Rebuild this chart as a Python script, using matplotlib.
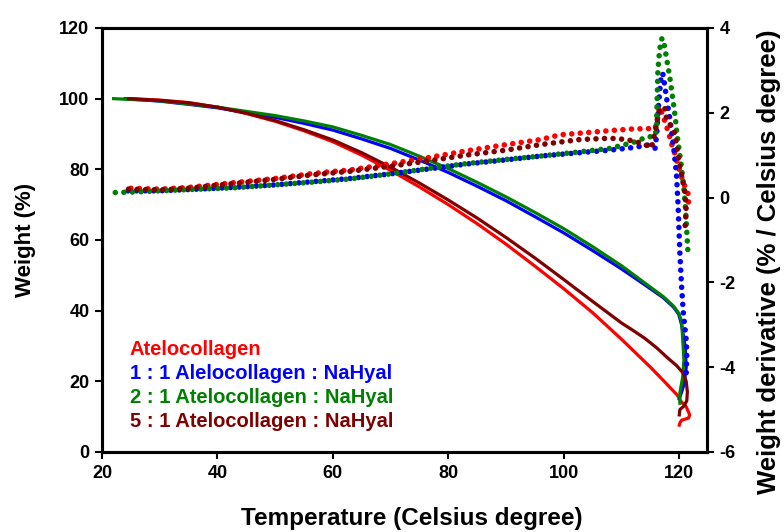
import matplotlib
matplotlib.use('Agg')
import matplotlib.pyplot as plt

plt.rcParams['font.family'] = ['Liberation Sans', 'DejaVu Sans']
plt.rcParams['font.weight'] = 'bold'
plt.rcParams['axes.unicode_minus'] = False

# weight loss curves (temperature in C, weight in %)
red_T = [25, 30, 35, 40, 45, 50, 55, 60, 65, 70, 75, 80, 85, 90, 95, 100, 105, 110, 115,
         117.5, 119.7, 120.2, 121.2, 121.8, 121.6, 120.4, 120.1, 120.0]
red_W = [100, 99.6, 98.9, 97.6, 95.8, 93.6, 90.9, 87.8, 84.0, 79.7, 75.0, 70.0, 64.6, 58.8,
         52.6, 46.2, 39.4, 31.9, 24.0, 19.8, 16.0, 14.5, 12.8, 10.5, 9.6, 9.0, 8.2, 7.6]

dred_T = [24.6, 30, 35, 40, 45, 50, 55, 60, 65, 70, 75, 80, 85, 90, 95, 100, 105, 110, 112,
          114, 116, 118, 119.5, 120.7, 121.2, 121.4, 121.3, 120.8, 120.1, 120.0]
dred_W = [100, 99.5, 98.8, 97.6, 95.9, 93.8, 91.2, 88.3, 84.7, 80.6, 76.1, 71.3, 66.2, 60.7,
          54.9, 48.8, 42.6, 36.5, 34.4, 32.2, 29.6, 26.6, 24.5, 22.3, 20, 17, 14.5, 13, 12, 10.5]

green_T = [22, 26, 30, 35, 40, 45, 50, 55, 60, 65, 70, 75, 80, 85, 90, 95, 100, 105, 110,
           114.3, 117.2, 119.0, 119.9, 120.4, 120.6, 120.8, 120.6, 120.1, 120.1]
green_W = [100, 99.7, 99.4, 98.5, 97.6, 96.4, 95.2, 93.7, 92.0, 89.6, 87.0, 83.7, 80.2, 76.3,
           72.2, 67.8, 63.2, 58.1, 52.7, 47.5, 44.0, 41.3, 39.3, 37.0, 31.7, 26.0, 21.3, 16.7,
           13.8]

blue_T = [24, 30, 35, 40, 45, 50, 55, 60, 65, 70, 75, 80, 85, 90, 95, 100, 105, 110, 114.3,
          117.2, 119.0, 119.9, 120.4, 121.0, 121.2, 120.8, 120.2, 120.0]
blue_W = [100, 99.3, 98.4, 97.4, 96.1, 94.7, 93.0, 91.1, 88.6, 85.9, 82.6, 79.1, 75.2, 71.1,
          66.6, 62.0, 57.0, 51.8, 47.0, 43.7, 41.0, 39.0, 36.0, 30.0, 24.0, 19.0, 16.0, 15.0]

# derivative curves (% / C)
red_dT = [25, 30, 35, 42.7, 50, 56, 59.5, 62.9, 70, 76.8, 83, 90, 96, 99.3, 102.8, 108, 112,
          115.8, 116.2, 116.6, 117.0, 117.5, 118.2, 118.8, 119.2, 119.8, 120.4, 121.0, 121.5,
          121.6, 121.4]
red_D = [0.22, 0.2, 0.24, 0.35, 0.45, 0.56, 0.61, 0.65, 0.8, 0.95, 1.1, 1.25, 1.37, 1.48, 1.52,
         1.58, 1.62, 1.63, 1.85, 2.14, 2.0, 1.8, 1.5, 1.2, 1.05, 0.75, 0.49, 0.25, 0.1, -0.1, -0.2]

dred_dT = [24.6, 30, 35, 42.7, 50, 56, 62.9, 70, 76.8, 83, 90, 96, 102.8, 108, 110.9, 113.5,
           115.2, 115.9, 116.4, 116.9, 117.5, 117.8, 118.5, 119.2, 119.7, 120.1, 120.6, 121.0,
           121.2, 121.0]
dred_D = [0.2, 0.18, 0.22, 0.33, 0.43, 0.53, 0.62, 0.74, 0.87, 1.0, 1.12, 1.25, 1.37, 1.4, 1.37,
          1.28, 1.18, 1.6, 2.0, 2.13, 2.1, 1.87, 1.7, 1.52, 1.1, 0.73, 0.4, 0.1, -0.3, -0.69]

green_dT = [22.3, 25, 30, 35, 42.7, 50, 56, 62.9, 70, 76.8, 83, 90, 96, 102.8, 108, 112, 114.6,
            115.6, 116.1, 116.1, 116.2, 116.3, 116.6, 117.0, 117.4, 117.9, 118.4, 118.9, 119.3,
            119.6, 120.0, 120.4, 120.8, 121.1, 121.3, 121.5]
green_D = [0.12, 0.13, 0.16, 0.19, 0.23, 0.3, 0.36, 0.44, 0.56, 0.69, 0.8, 0.9, 0.98, 1.08, 1.16,
           1.3, 1.44, 1.43, 1.6, 2.0, 2.5, 3.0, 3.5, 3.76, 3.6, 3.2, 2.8, 2.3, 1.9, 1.5, 1.1, 0.7,
           0.2, -0.3, -0.8, -1.3]

blue_dT = [24.5, 30, 35, 42.7, 50, 56, 62.9, 70, 76.8, 83, 90, 96, 102.8, 108, 112, 114.6, 115.8,
           116.1, 116.3, 116.6, 116.9, 117.2, 117.8, 118.4, 119.0, 119.5, 119.8, 120.1, 120.4,
           120.7, 121.0, 121.2, 121.3, 121.2, 121.0]
blue_D = [0.16, 0.16, 0.19, 0.24, 0.3, 0.37, 0.45, 0.56, 0.68, 0.79, 0.89, 0.98, 1.06, 1.12,
          1.18, 1.24, 1.16, 1.5, 2.0, 2.5, 2.93, 2.9, 2.34, 1.83, 1.2, 0.57, -0.21, -1.31, -2.1,
          -2.72, -3.1, -3.36, -3.67, -4.14, -4.3]

RED, BLUE, GREEN, DRED = '#ff0000', '#0000ff', '#008000', '#800000'

fig = plt.figure(figsize=(7.84, 5.32), dpi=100)
ax = fig.add_axes([102 / 784, 80 / 532, 605 / 784, 424 / 532])
ax2 = ax.twinx()

lw = 2.3
ax.plot(red_T, red_W, color=RED, lw=lw)
ax.plot(blue_T, blue_W, color=BLUE, lw=lw)
ax.plot(green_T, green_W, color=GREEN, lw=lw)
ax.plot(dred_T, dred_W, color=DRED, lw=lw)

dots = dict(lw=4.0, linestyle=(0, (0.01, 1.53)), dash_capstyle='round')
ax2.plot(red_dT, red_D, color=RED, **dots)
ax2.plot(blue_dT, blue_D, color=BLUE, **dots)
ax2.plot(green_dT, green_D, color=GREEN, **dots)
ax2.plot(dred_dT, dred_D, color=DRED, **dots)

ax.set_xlim(20, 124.8)
ax.set_ylim(0, 120)
ax2.set_ylim(-6, 4)
ax.set_xticks(range(20, 121, 20))
ax.set_yticks(range(0, 121, 20))
ax2.set_yticks(range(-6, 5, 2))

for a in (ax, ax2):
    for s in a.spines.values():
        s.set_linewidth(2.2)
    a.tick_params(direction='out', length=5, width=1.5, labelsize=13, pad=4)

fig.text(25 / 784, 1 - 240 / 532, 'Weight (%)', rotation=90, ha='center', va='center',
         fontsize=16, fontweight='bold')
fig.text(769 / 784, 1 - 262 / 532, 'Weight derivative (% / Celsius degree)', rotation=90,
         ha='center', va='center', fontsize=18.5, fontweight='bold')
fig.text(412 / 784, 1 - 518 / 532, 'Temperature (Celsius degree)', ha='center', va='center',
         fontsize=17.5, fontweight='bold')

labels = ['Atelocollagen', '1 : 1 Alelocollagen : NaHyal',
          '2 : 1 Atelocollagen : NaHyal', '5 : 1 Atelocollagen : NaHyal']
colors = [RED, BLUE, GREEN, DRED]
for i, (lab, c) in enumerate(zip(labels, colors)):
    ax.text(0.046, 0.241 - i * 0.0563, lab, color=c, transform=ax.transAxes,
            ha='left', va='center', fontsize=14.5, fontweight='bold')

fig.savefig('out.png', dpi=100)
